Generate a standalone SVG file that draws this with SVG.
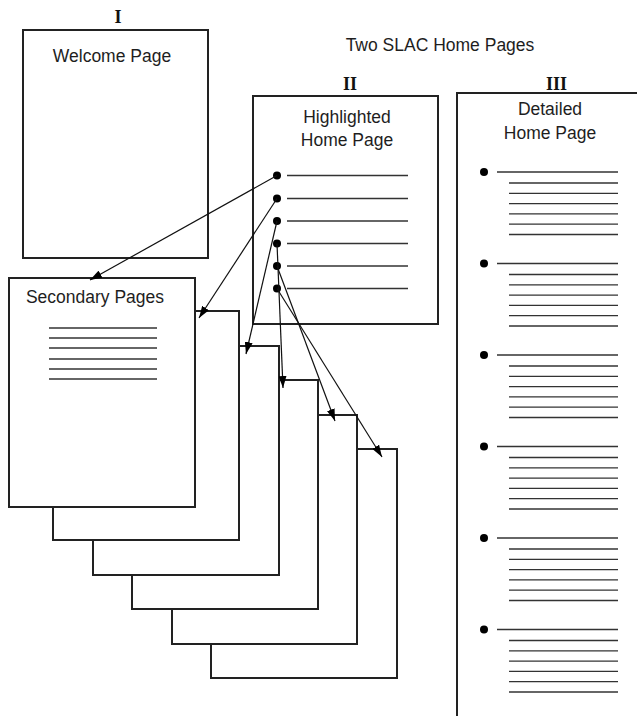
<svg xmlns="http://www.w3.org/2000/svg" width="637" height="717" viewBox="0 0 637 717">
<style>
.page{fill:#fff;stroke:#222;stroke-width:2}
.ln{stroke:#333;stroke-width:1.3;fill:none}
.txt{font-family:"Liberation Sans",Arial,sans-serif;font-size:17.5px;fill:#1e1e1e;text-anchor:middle}
.num{font-family:"Liberation Serif","Times New Roman",serif;font-size:18px;font-weight:bold;fill:#111;text-anchor:middle}
.dot{fill:#000}
.conn{stroke:#111;stroke-width:1.2;fill:none;marker-end:url(#arr)}
</style>
<defs>
<marker id="arr" markerUnits="userSpaceOnUse" markerWidth="12" markerHeight="8" refX="12" refY="4" orient="auto">
<path d="M0,0 L12,4 L0,8 z" fill="#000"/>
</marker>
<g id="sub6">
<line class="ln" x1="509" y1="11" x2="618" y2="11"/>
<line class="ln" x1="509" y1="21.3" x2="618" y2="21.3"/>
<line class="ln" x1="509" y1="31.6" x2="618" y2="31.6"/>
<line class="ln" x1="509" y1="41.9" x2="618" y2="41.9"/>
<line class="ln" x1="509" y1="52.2" x2="618" y2="52.2"/>
<line class="ln" x1="509" y1="62.5" x2="618" y2="62.5"/>
</g>
</defs>
<rect width="637" height="717" fill="#fff"/>
<text class="txt" x="440" y="51">Two SLAC Home Pages</text>

<g id="secondary-pages">
<rect class="page" x="211" y="449" width="186" height="229"/>
<rect class="page" x="172" y="415" width="185" height="229"/>
<rect class="page" x="132" y="380" width="186" height="229"/>
<rect class="page" x="93" y="346" width="186" height="229"/>
<rect class="page" x="53" y="311" width="186" height="229"/>
<rect class="page" x="9" y="278" width="186" height="229"/>
<text class="txt" x="95" y="303">Secondary Pages</text>
<line class="ln" x1="49" y1="328" x2="157" y2="328"/>
<line class="ln" x1="49" y1="338" x2="157" y2="338"/>
<line class="ln" x1="49" y1="348" x2="157" y2="348"/>
<line class="ln" x1="49" y1="359" x2="157" y2="359"/>
<line class="ln" x1="49" y1="369" x2="157" y2="369"/>
<line class="ln" x1="49" y1="379" x2="157" y2="379"/>
</g>

<g id="welcome-page">
<text class="num" x="118" y="23">I</text>
<rect class="page" x="23" y="30" width="185" height="228"/>
<text class="txt" x="112" y="62">Welcome Page</text>
</g>

<g id="highlighted-home-page">
<text class="num" x="350" y="90">II</text>
<rect class="page" x="253" y="96" width="185" height="228"/>
<text class="txt" x="347" y="123">Highlighted</text>
<text class="txt" x="347" y="146">Home Page</text>
<circle class="dot" cx="277" cy="175.5" r="4"/>
<circle class="dot" cx="277" cy="198.5" r="4"/>
<circle class="dot" cx="277" cy="221" r="4"/>
<circle class="dot" cx="277" cy="243.5" r="4"/>
<circle class="dot" cx="277" cy="266" r="4"/>
<circle class="dot" cx="277" cy="288.5" r="4"/>
<line class="ln" x1="287" y1="175.5" x2="408" y2="175.5"/>
<line class="ln" x1="287" y1="198.5" x2="408" y2="198.5"/>
<line class="ln" x1="287" y1="221" x2="408" y2="221"/>
<line class="ln" x1="287" y1="243.5" x2="408" y2="243.5"/>
<line class="ln" x1="287" y1="266" x2="408" y2="266"/>
<line class="ln" x1="287" y1="288.5" x2="408" y2="288.5"/>
</g>

<g id="detailed-home-page">
<text class="num" x="556.5" y="90">III</text>
<path d="M637,93 H457 V716" fill="none" stroke="#222" stroke-width="2"/>
<text class="txt" x="550" y="115">Detailed</text>
<text class="txt" x="550" y="139">Home Page</text>
<g transform="translate(0,172)"><circle class="dot" cx="484" cy="0" r="4"/><line class="ln" x1="497" y1="0" x2="618" y2="0"/><use href="#sub6"/></g>
<g transform="translate(0,263.5)"><circle class="dot" cx="484" cy="0" r="4"/><line class="ln" x1="497" y1="0" x2="618" y2="0"/><use href="#sub6"/></g>
<g transform="translate(0,355)"><circle class="dot" cx="484" cy="0" r="4"/><line class="ln" x1="497" y1="0" x2="618" y2="0"/><use href="#sub6"/></g>
<g transform="translate(0,446.5)"><circle class="dot" cx="484" cy="0" r="4"/><line class="ln" x1="497" y1="0" x2="618" y2="0"/><use href="#sub6"/></g>
<g transform="translate(0,538)"><circle class="dot" cx="484" cy="0" r="4"/><line class="ln" x1="497" y1="0" x2="618" y2="0"/><use href="#sub6"/></g>
<g transform="translate(0,629.5)"><circle class="dot" cx="484" cy="0" r="4"/><line class="ln" x1="497" y1="0" x2="618" y2="0"/><use href="#sub6"/></g>
</g>

<g id="connectors">
<line class="conn" x1="277" y1="175.5" x2="90" y2="280"/>
<line class="conn" x1="277" y1="198.5" x2="199" y2="318"/>
<line class="conn" x1="277" y1="221" x2="246" y2="354"/>
<line class="conn" x1="277" y1="243.5" x2="283" y2="388"/>
<line class="conn" x1="277" y1="266" x2="335" y2="421"/>
<line class="conn" x1="277" y1="288.5" x2="382" y2="457"/>
</g>
</svg>
